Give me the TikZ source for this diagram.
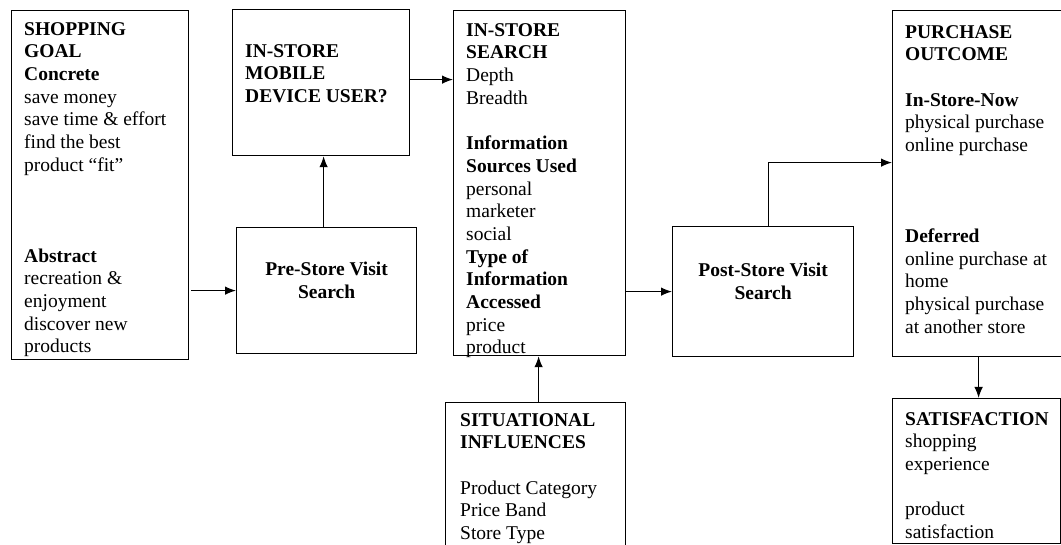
\documentclass[tikz,border=0pt]{standalone}
\usepackage{fontspec}
\setmainfont{Liberation Serif}
\usetikzlibrary{calc, arrows.meta}
\tikzset{
    blk/.style={draw, line width=1.2pt, anchor=north west, inner sep=0pt},
    txt/.style={anchor=north west, align=left, inner sep=0pt, font=\fontsize{19.5}{22.7}\selectfont},
    ctxt/.style={anchor=north, align=center, inner sep=0pt, font=\fontsize{19.5}{22.7}\selectfont\bfseries},
    arr/.style={line width=1.2pt, -{Latex[length=11pt, width=8.5pt]}}
}

\begin{document}
\begin{tikzpicture}[x=1pt, y=-1pt]
    \useasboundingbox (0,0) rectangle (1061,545);
    % boxes
    \node[blk, minimum width=177pt, minimum height=349pt] (goal) at (11,10) {};
    \node[blk, minimum width=177pt, minimum height=146pt] (mobile) at (232,9) {};
    \node[blk, minimum width=180pt, minimum height=126pt] (pre) at (236,227) {};
    \node[blk, minimum width=172pt, minimum height=345pt] (search) at (453,10) {};
    \node[blk, minimum width=180pt, minimum height=150pt] (sit) at (445,402) {};
    \node[blk, minimum width=181pt, minimum height=130pt] (post) at (672,226) {};
    \node[blk, minimum width=172pt, minimum height=346pt] (purch) at (892,10) {};
    \node[blk, minimum width=168pt, minimum height=145pt] (sat) at (892,398) {};

    % texts
    \node[txt] (goaltxt) at ([shift={(13,12)}]goal.north west) {\textbf{SHOPPING}\\ \textbf{GOAL}\\ \textbf{Concrete}\\ save money\\ save time \& effort\\ find the best\\ product “fit”\\[68.1pt] \textbf{Abstract}\\ recreation \&\\ enjoyment\\ discover new\\ products};
    \node[txt] (mobiletxt) at ([shift={(13,35)}]mobile.north west) {\textbf{IN-STORE}\\ \textbf{MOBILE}\\ \textbf{DEVICE USER?}};
    \node[ctxt] (pretxt) at ([yshift=-35pt]pre.north) {Pre-Store Visit\\ Search};
    \node[txt] (searchtxt) at ([shift={(13,13)}]search.north west) {\textbf{IN-STORE}\\ \textbf{SEARCH}\\ Depth\\ Breadth\\[22.7pt] \textbf{Information}\\ \textbf{Sources Used}\\ personal\\ marketer\\ social\\ \textbf{Type of}\\ \textbf{Information}\\ \textbf{Accessed}\\ price\\ product};
    \node[txt] (sittxt) at ([shift={(15,11)}]sit.north west) {\textbf{SITUATIONAL}\\ \textbf{INFLUENCES}\\[22.7pt] Product Category\\ Price Band\\ Store Type};
    \node[ctxt] (posttxt) at ([yshift=-37pt]post.north) {Post-Store Visit\\ Search};
    \node[txt] (purchtxt) at ([shift={(13,15)}]purch.north west) {\textbf{PURCHASE}\\ \textbf{OUTCOME}\\[22.7pt] \textbf{In-Store-Now}\\ physical purchase\\ online purchase\\[68.1pt] \textbf{Deferred}\\ online purchase at\\ home\\ physical purchase\\ at another store};
    \node[txt] (sattxt) at ([shift={(13,14)}]sat.north west) {\textbf{SATISFACTION}\\ shopping\\ experience\\[22.7pt] product\\ satisfaction};

    % connectors
    \draw[arr] ([xshift=2pt]goal.east |- pre.west) -- (pre.west);
    \draw[arr] ([xshift=-3pt]pre.north) -- ([xshift=-3pt]pre.north |- mobile.south);
    \draw[arr] ([yshift=3pt]mobile.east) -- ([yshift=3pt]mobile.east -| search.west);
    \draw[arr] ([xshift=3pt]sit.north) -- ([xshift=3pt]sit.north |- search.south);
    \draw[arr] (post.west -| search.east) -- (post.west);
    \draw[arr] ([xshift=5pt]post.north) |- ([yshift=21pt]purch.west);
    \draw[arr] (purch.south) -- (purch.south |- sat.north);
\end{tikzpicture}
\end{document}
